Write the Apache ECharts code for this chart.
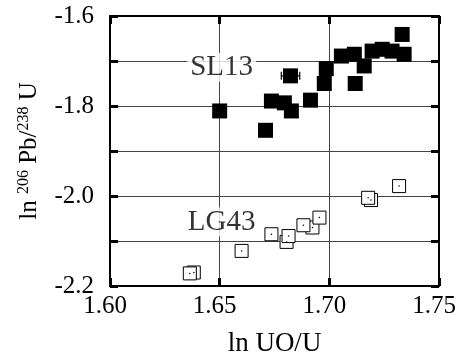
<!DOCTYPE html>
<html><head><meta charset="utf-8">
<script src="https://cdn.jsdelivr.net/npm/echarts@6/dist/echarts.min.js"></script>
<style>html,body{margin:0;padding:0;background:#fff}#c{width:462px;height:362px}</style>
</head><body><div id="c"></div>
<script>
// SL13 (filled squares): [ln UO/U, ln 206Pb/238U]
const sl13 = [
  [1.6500,-1.811],[1.6709,-1.854],[1.6736,-1.789],[1.6795,-1.793],[1.6827,-1.811],
  [1.6823,-1.733],[1.6914,-1.787],[1.6977,-1.750],[1.6986,-1.717],[1.7055,-1.689],
  [1.7114,-1.685],[1.7118,-1.750],[1.7159,-1.711],[1.7195,-1.678],[1.7241,-1.674],
  [1.7286,-1.678],[1.7332,-1.641],[1.7341,-1.685]
];
// LG43 (open squares)
const lg43 = [
  [1.6382,-2.170],[1.6364,-2.172],[1.6600,-2.122],[1.6736,-2.085],[1.6805,-2.102],
  [1.6814,-2.089],[1.6923,-2.070],[1.6882,-2.065],[1.6955,-2.048],[1.7190,-2.009],
  [1.7177,-2.004],[1.7318,-1.978]
];
// horizontal error bar: [x, y, halfWidth]
const errBars = [[1.6823,-1.733,0.0042]];
// labels: [x, y, text]
const seriesLabels = [[1.6509,-1.714,'SL13'],[1.6509,-2.058,'LG43']];
const xTicks = [1.60,1.65,1.70,1.75];
const yTicks = [-2.2,-2.0,-1.8,-1.6];

const FONT = 'Liberation Serif';
const chart = echarts.init(document.getElementById('c'));
const axisLine = {show:true, lineStyle:{color:'#000', width:2}};
const splitLine = {show:true, lineStyle:{color:'#444', width:1}};
const tickStyle = {show:true, inside:true, length:8, lineStyle:{color:'#000', width:3}};
chart.setOption({
  animation:false,
  backgroundColor:'#fff',
  grid:{left:110, right:23, top:16, bottom:70},
  xAxis:[{
    type:'value', min:1.60, max:1.75, interval:0.05,
    axisLine, splitLine, axisTick:tickStyle,
    axisLabel:{color:'#000', fontFamily:FONT, fontSize:25, margin:8, padding:[0,10,0,0],
      formatter:v=>xTicks.some(t=>Math.abs(t-v)<1e-6)?v.toFixed(2):''},
    name:'ln UO/U', nameLocation:'middle', nameGap:44,
    nameTextStyle:{color:'#000', fontFamily:FONT, fontSize:27}
  },{
    type:'value', min:1.60, max:1.75, interval:0.05, position:'top',
    axisLine, splitLine:{show:false}, axisTick:tickStyle, axisLabel:{show:false}
  }],
  yAxis:[{
    type:'value', min:-2.2, max:-1.6, interval:0.1,
    axisLine, splitLine, axisTick:tickStyle,
    axisLabel:{color:'#000', fontFamily:FONT, fontSize:25, margin:16,
      formatter:v=>yTicks.some(t=>Math.abs(t-v)<1e-6)?v.toFixed(1):''},
    name:'{n|ln }{s|206}{n| Pb/}{s|238}{n| U}', nameLocation:'middle', nameGap:68, nameRotate:90,
    nameTextStyle:{color:'#000', fontFamily:FONT, fontSize:25,
      rich:{n:{fontFamily:FONT, fontSize:25, color:'#000', verticalAlign:'bottom'},
            s:{fontFamily:FONT, fontSize:16, color:'#000', verticalAlign:'top', padding:[0,0,10,0]}}}
  },{
    type:'value', min:-2.2, max:-1.6, interval:0.1, position:'right',
    axisLine, splitLine:{show:false}, axisTick:tickStyle, axisLabel:{show:false}
  }],
  series:[
    {type:'custom', xAxisIndex:0, yAxisIndex:0, data:errBars, z:3,
      renderItem:(params, api)=>{
        const x=api.value(0), y=api.value(1), h=api.value(2);
        const p1=api.coord([x-h,y]), p2=api.coord([x+h,y]);
        const st={stroke:'#000', lineWidth:1.2};
        return {type:'group', children:[
          {type:'line', shape:{x1:p1[0],y1:p1[1],x2:p2[0],y2:p2[1]}, style:st},
          {type:'line', shape:{x1:p1[0],y1:p1[1]-4,x2:p1[0],y2:p1[1]+4}, style:st},
          {type:'line', shape:{x1:p2[0],y1:p2[1]-4,x2:p2[0],y2:p2[1]+4}, style:st}
        ]};
      }},
    {type:'scatter', name:'SL13', data:sl13, symbol:'rect', symbolSize:15, z:4,
      itemStyle:{color:'#000', opacity:1}},
    {type:'scatter', name:'LG43', data:lg43, symbol:'rect', symbolSize:13, z:4,
      itemStyle:{color:'#fff', borderColor:'#000', borderWidth:1, opacity:1}},
    {type:'scatter', name:'LG43dot', data:lg43, symbol:'circle', symbolSize:1.5, z:5,
      itemStyle:{color:'#000', opacity:1}},
    {type:'scatter', data:seriesLabels.map(d=>[d[0],d[1],d[2]]), symbolSize:0, z:6,
      label:{show:true, position:'inside', formatter:p=>p.data[2], color:'#000',
        fontFamily:FONT, fontSize:29, backgroundColor:'#fff', padding:[0,3]}}
  ]
});
</script></body></html>
